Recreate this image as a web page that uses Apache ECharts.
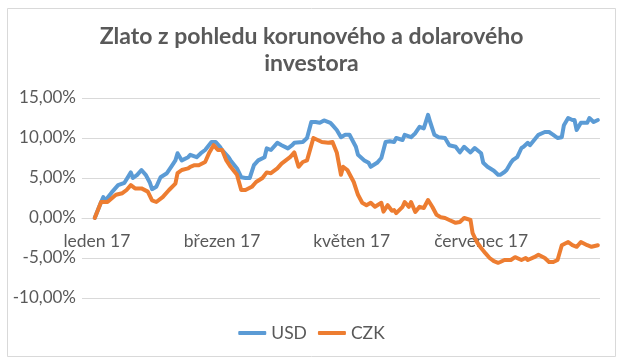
<!DOCTYPE html>
<html>
<head>
<meta charset="utf-8">
<script src="https://cdn.jsdelivr.net/npm/echarts@6/dist/echarts.min.js"></script>
<style>
html,body{margin:0;padding:0;background:#fff;}
#chart{width:623px;height:364px;}
</style>
</head>
<body>
<div id="chart"></div>
<script>
// Title and legend
var titleText = 'Zlato z pohledu korunového a dolarového\ninvestora';
var seriesNames = ['USD', 'CZK'];

// X axis: calendar days, offsets from 1 Jan 2017 (axis spans firstDay..lastDay)
var firstDay = -7, lastDay = 237;
var tickDays = [0, 59, 120, 181];
var tickLabels = ['leden 17', 'březen 17', 'květen 17', 'červenec 17'];

// USD series: day offsets from 1 Jan 2017 and cumulative change in %
var usdDays = [-1,2,3,4,7,10,13,16,17,19,21,23,25,26,28,30,33,35,37,38,40,43,44,47,49,51,54,56,58,59,62,63,66,68,70,72,74,76,79,80,82,85,87,90,92,93,97,99,101,103,105,107,110,111,113,115,117,119,122,123,126,128,129,132,134,136,138,140,141,144,145,148,150,152,154,156,157,159,161,164,166,169,171,173,176,178,181,182,184,187,189,190,192,193,195,196,198,200,201,203,204,206,208,211,213,215,217,219,220,222,224,225,226,228,231,232,234,236];
var usdValues = [0,2.0,2.6,2.2,3.2,4.1,4.4,5.7,5.0,5.4,6.0,5.4,4.4,3.6,3.9,5.1,5.6,6.4,7.2,8.1,7.2,7.6,7.9,7.6,8.1,8.5,9.5,9.5,8.9,8.5,7.6,7.2,6.2,5.1,5.0,5.0,6.6,7.2,7.6,8.7,8.5,9.4,9.1,8.7,9.1,9.4,9.5,10.0,12.0,12.0,11.9,12.2,11.9,11.6,11.0,10.1,10.4,10.4,8.9,7.9,7.2,6.9,6.4,6.9,7.5,9.5,9.6,9.5,10.0,9.75,10.4,10.1,10.6,11.4,11.2,12.9,12.0,10.4,10.1,10.0,9.1,8.9,8.2,8.9,8.2,8.75,8.1,6.9,6.4,5.9,5.4,5.4,5.75,6.0,6.9,7.25,7.6,8.75,8.9,9.4,9.1,9.75,10.4,10.75,10.75,10.4,10.0,10.1,11.6,12.5,12.25,12.25,11.0,11.9,11.9,12.5,12.0,12.25];

// CZK series
var czkDays = [-1,2,5,9,12,14,16,18,21,24,26,28,31,34,37,38,40,43,44,46,48,51,53,55,57,59,61,63,66,68,70,73,75,78,80,82,85,87,91,92,93,95,97,99,102,104,106,109,111,113,115,116,118,121,123,125,127,129,131,134,135,137,139,140,141,144,145,147,148,150,152,154,156,158,160,162,164,166,169,171,173,176,177,179,181,183,185,187,189,190,192,195,197,200,202,203,206,208,211,213,215,217,219,222,224,226,228,231,233,236];
var czkValues = [0,2.0,2.0,2.9,3.1,3.5,4.1,3.7,3.7,3.3,2.2,2.0,2.6,3.5,4.3,5.6,6.0,6.2,6.4,6.6,6.6,7.0,8.2,9.1,8.5,8.5,7.2,6.4,5.4,3.5,3.5,3.9,4.5,5.0,5.7,5.6,6.2,6.8,7.6,7.9,8.2,6.4,7.0,7.2,10.0,9.75,9.5,9.4,9.5,8.2,5.4,6.4,6.0,4.5,2.9,1.9,1.6,1.9,1.4,1.9,0.8,1.6,0.9,1.0,0.6,1.4,2.0,1.4,2.0,0.75,1.4,1.25,2.25,1.4,0.4,0.1,0.0,-0.25,-0.6,-0.5,0.0,-0.25,-1.9,-3.0,-3.75,-4.4,-5.0,-5.4,-5.6,-5.5,-5.25,-5.25,-4.9,-5.25,-5.0,-5.25,-4.9,-4.6,-5.0,-5.5,-5.5,-5.25,-3.4,-3.0,-3.4,-3.6,-3.0,-3.4,-3.6,-3.4];

// Y axis range
var yMin = -10, yMax = 15, yStep = 5;

// Build the category list (one per calendar day)
var dayCategories = [];
for (var d = firstDay; d <= lastDay; d++) dayCategories.push(String(d));

function pairs(xs, ys) {
  return xs.map(function (x, i) { return [x - firstDay, ys[i]]; });
}

var FONT = 'Lato, "Liberation Sans", sans-serif';
var TXT = '#595959';

var GRID_TOP = 98, GRID_BOTTOM = 66, H = 364;
// the horizontal axis crosses the vertical one at 0 (Excel style)
var plotH = H - GRID_TOP - GRID_BOTTOM;
var zeroOffset = -plotH * (0 - yMin) / (yMax - yMin);

var chart = echarts.init(document.getElementById('chart'), null, {renderer: 'canvas'});
chart.setOption({
  animation: false,
  backgroundColor: '#ffffff',
  title: {
    text: titleText,
    left: 'center',
    top: 18,
    textStyle: {
      fontFamily: FONT, fontSize: 23, fontWeight: 'bold', color: TXT, lineHeight: 27
    }
  },
  graphic: [{
    type: 'rect',
    shape: {x: 7.5, y: 8.5, width: 608, height: 348},
    style: {fill: 'none', stroke: '#d9d9d9', lineWidth: 1},
    silent: true,
    z: -10
  }],
  legend: {
    data: seriesNames,
    top: 319,
    left: 'center',
    icon: 'roundRect',
    itemWidth: 28,
    itemHeight: 4,
    itemGap: 11,
    textStyle: {fontFamily: FONT, fontSize: 17.5, color: TXT}
  },
  grid: {left: 82, right: 23, top: GRID_TOP, bottom: GRID_BOTTOM, containLabel: false},
  xAxis: {
    type: 'category',
    data: dayCategories,
    boundaryGap: false,
    position: 'bottom',
    offset: zeroOffset,
    axisLine: {show: true, onZero: false, lineStyle: {color: '#d9d9d9', width: 1}},
    axisTick: {show: false},
    splitLine: {show: false},
    axisLabel: {
      interval: function (idx, val) { return tickDays.indexOf(Number(val)) >= 0; },
      margin: 14,
      hideOverlap: false,
      fontFamily: FONT, fontSize: 17.5, color: TXT,
      formatter: function (val) {
        var i = tickDays.indexOf(Number(val));
        return i >= 0 ? tickLabels[i] : '';
      }
    }
  },
  yAxis: {
    type: 'value',
    min: yMin, max: yMax, interval: yStep,
    axisLine: {show: false},
    axisTick: {show: false},
    splitLine: {lineStyle: {color: '#d9d9d9', width: 1}},
    axisLabel: {
      margin: 6,
      fontFamily: FONT, fontSize: 17, color: TXT,
      formatter: function (v) { return v.toFixed(2).replace('.', ',') + '%'; }
    }
  },
  series: [
    {
      name: seriesNames[0], type: 'line', data: pairs(usdDays, usdValues),
      showSymbol: false, symbol: 'none',
      lineStyle: {color: '#5B9BD5', width: 4, cap: 'round', join: 'round'},
      itemStyle: {color: '#5B9BD5'}
    },
    {
      name: seriesNames[1], type: 'line', data: pairs(czkDays, czkValues),
      showSymbol: false, symbol: 'none',
      lineStyle: {color: '#ED7D31', width: 4, cap: 'round', join: 'round'},
      itemStyle: {color: '#ED7D31'}
    }
  ]
});
</script>
</body>
</html>
